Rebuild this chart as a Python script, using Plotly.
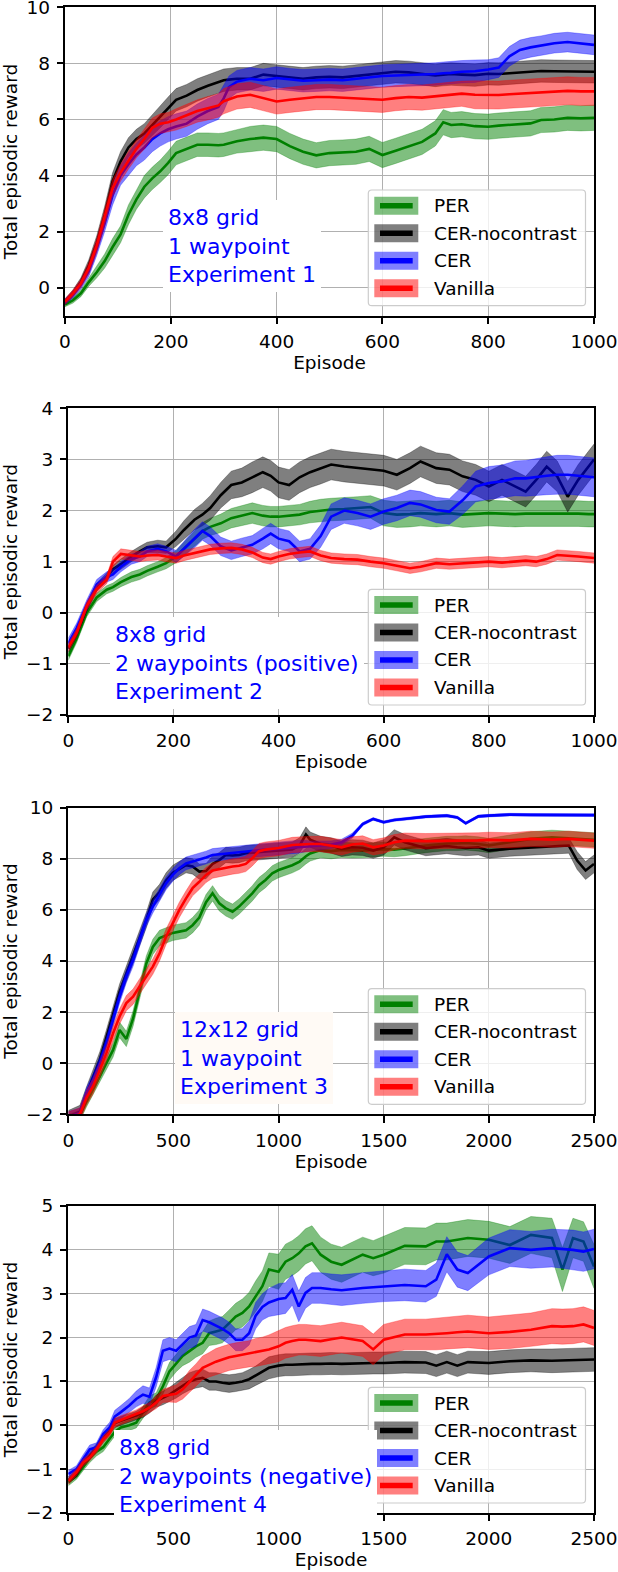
import plotly.graph_objects as go

# ---------------- data ----------------
series_names = ["PER", "CER-nocontrast", "CER", "Vanilla"]

# Experiment 1
ep1 = [0,15,30,45,60,75,90,105,120,135,150,165,180,195,210,230,250,270,290,300,
       310,325,350,375,400,425,450,475,500,525,550,575,600,625,650,675,700,715,730,750,
       775,800,820,840,860,880,900,925,950,975,1000]
per1_mean = [-0.6,-0.45,-0.2,0.2,0.55,0.95,1.45,1.9,2.6,3.15,3.6,3.9,4.15,4.45,4.8,4.95,5.1,5.1,5.08,5.1,
             5.15,5.22,5.3,5.35,5.3,5.05,4.85,4.72,4.8,4.82,4.85,4.95,4.73,4.88,5.03,5.2,5.5,5.9,5.8,5.83,
             5.76,5.74,5.78,5.8,5.82,5.86,5.98,6.0,6.06,6.04,6.06]
per1_sd = [0.08,0.1,0.12,0.15,0.2,0.25,0.3,0.3,0.35,0.35,0.4,0.4,0.4,0.42,0.42,0.42,0.42,0.42,0.42,0.42,
           0.42,0.42,0.45,0.45,0.45,0.45,0.45,0.45,0.45,0.45,0.45,0.45,0.45,0.45,0.45,0.45,0.45,0.45,0.45,0.45,
           0.45,0.45,0.45,0.45,0.45,0.45,0.45,0.45,0.45,0.45,0.45]
noc1_mean = [-0.5,-0.2,0.2,0.8,1.6,2.6,3.8,4.5,5.0,5.3,5.5,5.8,6.1,6.4,6.7,6.85,7.05,7.2,7.35,7.4,
             7.42,7.45,7.45,7.6,7.55,7.5,7.45,7.5,7.52,7.5,7.55,7.6,7.65,7.7,7.68,7.62,7.57,7.6,7.62,7.6,
             7.58,7.63,7.62,7.65,7.68,7.7,7.73,7.72,7.72,7.7,7.7]
noc1_sd = [0.1,0.12,0.15,0.2,0.25,0.3,0.3,0.35,0.35,0.35,0.35,0.38,0.4,0.4,0.4,0.4,0.4,0.4,0.4,0.4,
           0.4,0.4,0.4,0.4,0.4,0.4,0.4,0.4,0.4,0.4,0.4,0.4,0.4,0.4,0.4,0.4,0.4,0.4,0.4,0.4,
           0.4,0.4,0.4,0.4,0.4,0.4,0.4,0.4,0.4,0.4,0.4]
cer1_mean = [-0.5,-0.25,0.1,0.6,1.4,2.3,3.3,4.0,4.4,4.75,5.0,5.3,5.5,5.65,5.75,5.85,6.1,6.3,6.45,6.75,
             7.15,7.35,7.45,7.4,7.48,7.42,7.38,7.4,7.42,7.4,7.45,7.5,7.55,7.57,7.58,7.6,7.62,7.65,7.66,7.7,
             7.72,7.78,7.85,8.25,8.48,8.57,8.63,8.72,8.76,8.7,8.66]
cer1_sd = [0.1,0.12,0.15,0.2,0.25,0.3,0.35,0.35,0.4,0.4,0.45,0.45,0.45,0.45,0.45,0.45,0.45,0.45,0.45,0.45,
           0.4,0.4,0.4,0.4,0.4,0.4,0.4,0.4,0.4,0.4,0.4,0.4,0.4,0.4,0.4,0.4,0.4,0.4,0.4,0.4,
           0.4,0.35,0.35,0.35,0.35,0.35,0.35,0.35,0.35,0.35,0.35]
van1_mean = [-0.5,-0.2,0.15,0.7,1.5,2.5,3.55,4.1,4.55,4.95,5.3,5.7,5.85,5.9,6.0,6.15,6.3,6.4,6.5,6.65,
             6.72,6.82,6.88,6.76,6.64,6.7,6.75,6.8,6.8,6.78,6.75,6.72,6.7,6.76,6.8,6.78,6.82,6.85,6.88,6.92,
             6.88,6.86,6.87,6.9,6.92,6.93,6.95,6.98,7.02,7.0,7.0]
van1_sd = [0.1,0.12,0.15,0.2,0.25,0.3,0.3,0.3,0.32,0.32,0.35,0.35,0.35,0.35,0.38,0.4,0.4,0.42,0.42,0.45,
           0.45,0.45,0.45,0.45,0.45,0.45,0.45,0.45,0.45,0.45,0.45,0.45,0.45,0.45,0.45,0.45,0.45,0.45,0.45,0.45,
           0.5,0.5,0.5,0.5,0.5,0.5,0.5,0.5,0.5,0.5,0.5]

# Experiment 2
ep2 = [0,16,35,54,73,85,100,120,136,150,170,186,205,220,240,255,270,290,310,330,
       350,370,385,400,420,440,460,480,500,525,550,575,600,625,650,670,700,725,750,775,
       800,825,850,870,890,910,930,950,970,990,1000]
per2_mean = [-0.85,-0.5,0.0,0.3,0.45,0.5,0.6,0.7,0.75,0.82,0.9,0.97,1.1,1.25,1.45,1.6,1.68,1.75,1.85,1.9,
             1.95,1.9,1.88,1.88,1.9,1.92,1.97,2.0,2.02,2.03,2.05,2.07,1.95,1.92,1.93,1.95,1.93,1.95,1.92,1.94,
             1.95,1.94,1.93,1.94,1.94,1.95,1.95,1.95,1.94,1.93,1.93]
per2_sd = [0.08,0.08,0.08,0.08,0.08,0.08,0.09,0.1,0.1,0.1,0.1,0.11,0.12,0.13,0.15,0.16,0.17,0.18,0.19,0.2,
           0.2,0.2,0.2,0.2,0.2,0.2,0.21,0.22,0.22,0.22,0.22,0.22,0.25,0.25,0.25,0.25,0.25,0.25,0.25,0.25,
           0.25,0.25,0.25,0.25,0.25,0.25,0.25,0.25,0.25,0.25,0.25]
noc2_mean = [-0.7,-0.4,0.1,0.5,0.7,0.85,0.95,1.1,1.2,1.28,1.3,1.28,1.45,1.62,1.82,1.92,2.05,2.3,2.5,2.55,
             2.65,2.75,2.68,2.55,2.5,2.65,2.75,2.82,2.9,2.86,2.83,2.8,2.78,2.7,2.83,2.96,2.83,2.8,2.67,2.6,
             2.47,2.6,2.47,2.37,2.6,2.86,2.67,2.27,2.6,2.86,3.0]
noc2_sd = [0.08,0.08,0.08,0.08,0.08,0.08,0.1,0.1,0.1,0.1,0.12,0.12,0.15,0.18,0.2,0.22,0.24,0.25,0.27,0.28,
           0.3,0.3,0.3,0.3,0.3,0.3,0.3,0.3,0.3,0.3,0.3,0.3,0.3,0.3,0.3,0.3,0.3,0.3,0.3,0.3,
           0.3,0.3,0.3,0.3,0.3,0.3,0.3,0.3,0.3,0.3,0.3]
cer2_mean = [-0.6,-0.3,0.15,0.55,0.7,0.75,0.9,1.05,1.1,1.2,1.25,1.2,1.1,1.25,1.45,1.6,1.5,1.3,1.22,1.28,
             1.33,1.45,1.55,1.45,1.4,1.2,1.25,1.5,1.88,2.0,1.95,1.88,1.98,2.05,2.15,2.12,2.01,1.98,2.2,2.47,
             2.54,2.57,2.63,2.63,2.66,2.68,2.7,2.7,2.68,2.66,2.65]
cer2_sd = [0.1,0.1,0.1,0.1,0.1,0.1,0.1,0.1,0.1,0.1,0.1,0.1,0.12,0.15,0.18,0.18,0.18,0.18,0.18,0.18,
           0.18,0.2,0.2,0.2,0.2,0.2,0.2,0.22,0.25,0.25,0.25,0.25,0.25,0.25,0.25,0.25,0.25,0.25,0.28,0.3,
           0.32,0.32,0.34,0.35,0.36,0.37,0.38,0.38,0.38,0.38,0.38]
van2_mean = [-0.68,-0.39,0.13,0.46,0.65,1.0,1.15,1.12,1.1,1.12,1.13,1.1,1.07,1.12,1.17,1.2,1.24,1.26,1.27,1.24,
             1.18,1.08,1.05,1.1,1.15,1.18,1.2,1.12,1.07,1.05,1.04,1.0,0.97,0.92,0.87,0.9,0.97,0.95,0.97,0.98,
             1.0,0.98,1.0,1.02,1.0,1.05,1.13,1.12,1.1,1.08,1.07]
van2_sd = [0.08,0.08,0.08,0.08,0.08,0.1,0.1,0.1,0.1,0.1,0.1,0.1,0.1,0.1,0.1,0.1,0.1,0.1,0.1,0.1,
           0.1,0.1,0.1,0.1,0.1,0.1,0.1,0.1,0.1,0.1,0.1,0.1,0.1,0.1,0.1,0.1,0.1,0.1,0.1,0.1,
           0.1,0.1,0.1,0.1,0.1,0.1,0.1,0.1,0.1,0.1,0.1]

# Experiment 3
ep3 = [0,55,87,118,150,181,213,244,276,308,339,371,402,434,465,497,528,560,591,623,
       655,686,718,749,781,812,844,875,907,938,970,1000,1065,1100,1130,1150,1200,1250,1300,1350,
       1400,1450,1500,1550,1600,1700,1800,1850,1890,1950,2000,2100,2200,2300,2380,2420,2460,2500]
per3_mean = [-2.2,-2.05,-1.5,-1.04,-0.52,0.0,0.52,1.3,0.95,1.75,2.8,3.9,4.55,4.9,5.0,5.1,5.15,5.2,5.4,5.7,
             6.3,6.65,6.26,6.06,5.93,6.13,6.39,6.65,6.97,7.17,7.43,7.56,7.75,7.89,8.1,8.21,8.34,8.3,8.35,8.33,
             8.32,8.35,8.38,8.36,8.4,8.52,8.6,8.6,8.62,8.58,8.52,8.65,8.78,8.84,8.8,8.78,8.76,8.74]
per3_sd = [0.2,0.2,0.2,0.2,0.22,0.25,0.28,0.3,0.3,0.3,0.3,0.3,0.3,0.3,0.3,0.3,0.3,0.3,0.3,0.3,
           0.3,0.3,0.3,0.3,0.3,0.3,0.3,0.3,0.3,0.3,0.3,0.3,0.3,0.3,0.3,0.3,0.3,0.3,0.3,0.3,
           0.28,0.28,0.28,0.28,0.28,0.28,0.28,0.28,0.28,0.28,0.28,0.28,0.28,0.28,0.28,0.28,0.28,0.28]
noc3_mean = [-2.1,-1.9,-1.2,-0.55,0.15,1.0,1.95,2.8,3.5,4.2,4.9,5.6,6.4,6.7,7.15,7.45,7.6,7.75,7.7,7.5,
             7.52,7.8,7.95,8.15,8.13,8.15,8.22,8.24,8.26,8.3,8.32,8.32,8.36,8.52,8.95,8.75,8.58,8.52,8.39,8.45,
             8.43,8.32,8.45,8.84,8.65,8.42,8.5,8.45,8.42,8.45,8.32,8.4,8.45,8.48,8.52,7.93,7.54,7.8]
noc3_sd = [0.25,0.25,0.28,0.3,0.3,0.3,0.3,0.3,0.3,0.3,0.3,0.3,0.3,0.3,0.3,0.3,0.3,0.3,0.3,0.3,
           0.3,0.3,0.3,0.3,0.3,0.3,0.3,0.3,0.3,0.3,0.3,0.3,0.3,0.3,0.3,0.3,0.3,0.3,0.3,0.3,
           0.3,0.3,0.3,0.3,0.3,0.3,0.3,0.3,0.3,0.3,0.3,0.3,0.3,0.3,0.3,0.35,0.35,0.35]
cer3_mean = [-2.1,-1.95,-1.17,-0.65,0.0,0.78,1.7,2.6,3.4,4.04,4.82,5.6,6.13,6.58,7.04,7.37,7.63,7.82,7.89,7.97,
             8.05,8.15,8.18,8.21,8.24,8.27,8.29,8.32,8.34,8.36,8.38,8.4,8.45,8.48,8.5,8.5,8.52,8.55,8.65,8.9,
             9.36,9.56,9.43,9.52,9.56,9.65,9.69,9.62,9.39,9.66,9.69,9.73,9.72,9.71,9.71,9.71,9.71,9.71]
cer3_sd = [0.2,0.2,0.22,0.25,0.25,0.25,0.25,0.25,0.25,0.25,0.25,0.25,0.25,0.25,0.25,0.25,0.25,0.25,0.25,0.25,
           0.25,0.25,0.25,0.25,0.25,0.25,0.25,0.25,0.25,0.25,0.25,0.25,0.25,0.25,0.22,0.2,0.18,0.15,0.12,0.1,
           0.06,0.05,0.05,0.05,0.05,0.05,0.05,0.05,0.05,0.05,0.05,0.05,0.05,0.05,0.05,0.05,0.05,0.05]
van3_mean = [-2.15,-2.0,-1.35,-0.9,-0.26,0.39,1.17,1.83,2.35,2.6,3.0,3.4,3.78,4.3,4.95,5.48,6.0,6.45,6.85,7.1,
             7.37,7.54,7.6,7.65,7.7,7.73,7.8,8.02,8.3,8.36,8.4,8.42,8.54,8.56,8.58,8.58,8.58,8.52,8.45,8.56,
             8.6,8.45,8.52,8.65,8.71,8.69,8.7,8.7,8.69,8.72,8.74,8.72,8.78,8.75,8.78,8.76,8.74,8.71]
van3_sd = [0.25,0.25,0.28,0.3,0.3,0.3,0.3,0.3,0.3,0.3,0.3,0.3,0.3,0.3,0.3,0.3,0.3,0.3,0.3,0.3,
           0.3,0.3,0.3,0.3,0.3,0.3,0.3,0.3,0.3,0.3,0.3,0.3,0.3,0.3,0.3,0.3,0.3,0.3,0.3,0.3,
           0.3,0.3,0.3,0.3,0.3,0.3,0.3,0.3,0.3,0.3,0.3,0.3,0.3,0.3,0.3,0.3,0.3,0.3]

# Experiment 4
ep4 = [0,39,71,102,134,166,197,221,250,290,323,355,386,418,450,481,513,544,576,607,
       639,670,702,733,765,796,828,860,891,923,954,1000,1033,1065,1096,1128,1159,1200,1250,1300,
       1400,1450,1500,1600,1700,1750,1800,1850,1900,2000,2100,2200,2300,2350,2400,2450,2500]
per4_mean = [-1.3,-1.15,-0.95,-0.75,-0.6,-0.5,-0.3,-0.15,-0.05,0.0,0.06,0.29,0.52,0.59,0.89,1.23,1.42,1.58,1.69,1.8,
             1.88,2.1,2.14,2.18,2.33,2.48,2.56,2.71,2.94,3.17,3.55,3.5,3.73,3.81,3.92,4.08,4.15,3.89,3.73,3.66,
             3.89,3.81,3.89,4.09,4.08,4.19,4.19,4.23,4.27,4.23,4.11,4.34,4.27,3.55,4.27,4.19,3.62]
per4_sd = [0.08,0.08,0.08,0.1,0.1,0.1,0.1,0.1,0.1,0.12,0.12,0.14,0.15,0.15,0.18,0.2,0.2,0.22,0.25,0.25,
           0.25,0.28,0.3,0.3,0.3,0.3,0.32,0.32,0.35,0.35,0.38,0.4,0.4,0.4,0.4,0.4,0.4,0.4,0.4,0.4,
           0.4,0.4,0.42,0.42,0.42,0.42,0.42,0.42,0.42,0.42,0.42,0.42,0.45,0.5,0.45,0.45,0.5]
noc4_mean = [-1.25,-1.1,-0.85,-0.7,-0.5,-0.3,-0.1,0.05,0.1,0.17,0.22,0.3,0.4,0.55,0.62,0.7,0.8,0.9,1.0,1.05,
             1.08,1.0,1.0,0.97,0.95,0.97,1.0,1.05,1.13,1.22,1.31,1.36,1.38,1.38,1.39,1.39,1.4,1.4,1.41,1.4,
             1.42,1.42,1.42,1.44,1.43,1.36,1.44,1.36,1.44,1.42,1.46,1.48,1.47,1.48,1.48,1.49,1.5]
noc4_sd = [0.08,0.08,0.08,0.08,0.08,0.08,0.08,0.1,0.1,0.1,0.1,0.12,0.12,0.14,0.15,0.16,0.18,0.18,0.2,0.2,
           0.2,0.2,0.2,0.2,0.2,0.2,0.2,0.22,0.22,0.24,0.25,0.25,0.25,0.25,0.25,0.25,0.25,0.25,0.25,0.25,
           0.25,0.25,0.25,0.25,0.25,0.25,0.25,0.25,0.25,0.26,0.26,0.26,0.27,0.27,0.27,0.27,0.27]
cer4_mean = [-1.11,-1.0,-0.77,-0.55,-0.5,-0.2,-0.05,0.2,0.3,0.45,0.6,0.7,0.65,1.1,1.7,1.75,1.7,1.85,2.0,2.05,
             2.4,2.35,2.28,2.2,2.1,1.95,1.95,2.1,2.5,2.7,2.8,2.88,2.9,3.09,2.71,3.02,3.13,3.13,3.1,3.08,
             3.13,3.15,3.17,3.2,3.17,3.32,3.9,3.55,3.47,3.85,4.04,4.0,4.04,4.02,4.0,3.96,4.02]
cer4_sd = [0.08,0.08,0.1,0.1,0.1,0.1,0.12,0.14,0.15,0.16,0.18,0.2,0.2,0.22,0.25,0.25,0.25,0.25,0.25,0.25,
           0.25,0.25,0.25,0.25,0.25,0.25,0.25,0.27,0.3,0.3,0.32,0.35,0.35,0.35,0.35,0.35,0.35,0.35,0.35,0.35,
           0.35,0.35,0.35,0.36,0.36,0.38,0.4,0.4,0.4,0.42,0.42,0.42,0.43,0.44,0.45,0.45,0.45]
van4_mean = [-1.27,-1.07,-0.85,-0.73,-0.55,-0.32,-0.17,0.06,0.12,0.2,0.25,0.32,0.4,0.52,0.67,0.7,0.72,0.82,1.0,1.15,
             1.31,1.38,1.45,1.5,1.55,1.58,1.61,1.63,1.66,1.69,1.73,1.8,1.88,1.92,1.95,1.95,1.94,1.92,1.96,2.0,
             1.92,1.73,1.95,2.07,2.07,2.08,2.1,2.12,2.14,2.1,2.13,2.18,2.26,2.25,2.26,2.3,2.22]
van4_sd = [0.08,0.08,0.08,0.08,0.08,0.08,0.08,0.1,0.1,0.1,0.1,0.12,0.12,0.14,0.15,0.17,0.2,0.22,0.25,0.25,
           0.27,0.28,0.3,0.3,0.3,0.3,0.3,0.3,0.32,0.32,0.33,0.35,0.35,0.35,0.35,0.35,0.35,0.35,0.35,0.35,
           0.35,0.35,0.35,0.35,0.35,0.36,0.36,0.36,0.37,0.37,0.38,0.38,0.4,0.4,0.4,0.4,0.4]

# axis ticks
xticks_short = [0, 200, 400, 600, 800, 1000]
xticks_long = [0, 500, 1000, 1500, 2000, 2500]
yticks1 = [0, 2, 4, 6, 8, 10]
yticks2 = [-2, -1, 0, 1, 2, 3, 4]
yticks3 = [-2, 0, 2, 4, 6, 8, 10]
yticks4 = [-2, -1, 0, 1, 2, 3, 4, 5]

notes = ["8x8 grid<br>1 waypoint<br>Experiment 1",
         "8x8 grid<br>2 waypoints (positive)<br>Experiment 2",
         "12x12 grid<br>1 waypoint<br>Experiment 3",
         "8x8 grid<br>2 waypoints (negative)<br>Experiment 4"]

# ---------------- styling / layout ----------------
W, H = 618, 1572
FONT = "DejaVu Sans"


def fx(px):
    return px / W


def fy(py):
    return 1 - py / H


line_colors = ["#008000", "#000000", "#0000ff", "#ff0000"]
fill_colors = ["rgba(0,128,0,0.5)", "rgba(0,0,0,0.5)", "rgba(0,0,255,0.5)", "rgba(255,0,0,0.5)"]

panels = [
    dict(ep=ep1, data=[(per1_mean, per1_sd), (noc1_mean, noc1_sd), (cer1_mean, cer1_sd), (van1_mean, van1_sd)],
         box=(65, 594, 7.3, 315.7), xr=[0, 1000], xt=xticks_short, yr=[-1, 10], yt=yticks1,
         note=notes[0], note_xy=(163, 200), note_bg="#ffffff"),
    dict(ep=ep2, data=[(per2_mean, per2_sd), (noc2_mean, noc2_sd), (cer2_mean, cer2_sd), (van2_mean, van2_sd)],
         box=(68.3, 594, 408.3, 715), xr=[0, 1000], xt=xticks_short, yr=[-2, 4], yt=yticks2,
         note=notes[1], note_xy=(110, 617), note_bg="#ffffff"),
    dict(ep=ep3, data=[(per3_mean, per3_sd), (noc3_mean, noc3_sd), (cer3_mean, cer3_sd), (van3_mean, van3_sd)],
         box=(68.3, 594, 807.7, 1114.3), xr=[0, 2500], xt=xticks_long, yr=[-2, 10], yt=yticks3,
         note=notes[2], note_xy=(175, 1011.7), note_bg="#fffaf5"),
    dict(ep=ep4, data=[(per4_mean, per4_sd), (noc4_mean, noc4_sd), (cer4_mean, cer4_sd), (van4_mean, van4_sd)],
         box=(68.3, 594, 1206, 1513), xr=[0, 2500], xt=xticks_long, yr=[-2, 5], yt=yticks4,
         note=notes[3], note_xy=(114, 1430), note_bg="#ffffff"),
]

fig = go.Figure()
layout = dict(width=W, height=H, margin=dict(l=0, r=0, t=0, b=0, autoexpand=False),
              paper_bgcolor="white", plot_bgcolor="white", showlegend=False,
              font=dict(family=FONT, size=18.5, color="black"))
shapes = []
annotations = []

for i, p in enumerate(panels):
    sfx = "" if i == 0 else str(i + 1)
    xa, ya = "x" + sfx, "y" + sfx
    x0, x1, top, bot = p["box"]
    for k, (mean, sd) in enumerate(p["data"]):
        upper = [m + s for m, s in zip(mean, sd)]
        lower = [m - s for m, s in zip(mean, sd)]
        fig.add_trace(go.Scatter(x=p["ep"], y=upper, mode="lines", xaxis=xa, yaxis=ya,
                                 line=dict(width=0.6, color=fill_colors[k]), hoverinfo="skip",
                                 showlegend=False))
        fig.add_trace(go.Scatter(x=p["ep"], y=lower, mode="lines", xaxis=xa, yaxis=ya,
                                 fill="tonexty", fillcolor=fill_colors[k],
                                 line=dict(width=0.6, color=fill_colors[k]), hoverinfo="skip",
                                 showlegend=False))
        fig.add_trace(go.Scatter(x=p["ep"], y=mean, mode="lines", xaxis=xa, yaxis=ya,
                                 name=series_names[k], line=dict(width=2.6, color=line_colors[k])))

    common = dict(showgrid=True, gridcolor="#b0b0b0", gridwidth=1.3, zeroline=False,
                  showline=True, mirror=True, linecolor="black", linewidth=1.5,
                  ticks="outside", ticklen=6.5, tickwidth=1.5, tickcolor="black", automargin=False,
                  ticklabeloverflow="allow",
                  tickfont=dict(family=FONT, size=18.5, color="black"))
    layout["xaxis" + sfx] = dict(common, domain=[fx(x0), fx(x1)], anchor=ya, range=p["xr"],
                                 tickmode="array", tickvals=p["xt"], ticklabelstandoff=2,
                                 title=dict(text="Episode", standoff=4,
                                            font=dict(family=FONT, size=18.5, color="black")))
    layout["yaxis" + sfx] = dict(common, domain=[fy(bot), fy(top)], anchor=xa, range=p["yr"],
                                 tickmode="array", tickvals=p["yt"], ticklabelstandoff=3,
                                 title=dict(text="Total episodic reward", standoff=17,
                                            font=dict(family=FONT, size=18.5, color="black")))

    # text box
    nx, ny = p["note_xy"]
    annotations.append(dict(xref="paper", yref="paper", x=fx(nx), y=fy(ny), xanchor="left", yanchor="top",
                            text=p["note"], showarrow=False, align="left", bgcolor=p["note_bg"],
                            borderpad=5, borderwidth=0,
                            font=dict(family=FONT, size=22, color="#0000ff")))

    # legend (lower right)
    lx0, lx1 = 368.3, 585.5
    lb = bot - 10
    lt = lb - 115.7
    r = 3.5
    path = (f"M {fx(lx0 + r)},{fy(lt)} L {fx(lx1 - r)},{fy(lt)} Q {fx(lx1)},{fy(lt)} {fx(lx1)},{fy(lt + r)} "
            f"L {fx(lx1)},{fy(lb - r)} Q {fx(lx1)},{fy(lb)} {fx(lx1 - r)},{fy(lb)} "
            f"L {fx(lx0 + r)},{fy(lb)} Q {fx(lx0)},{fy(lb)} {fx(lx0)},{fy(lb - r)} "
            f"L {fx(lx0)},{fy(lt + r)} Q {fx(lx0)},{fy(lt)} {fx(lx0 + r)},{fy(lt)} Z")
    shapes.append(dict(type="path", xref="paper", yref="paper", path=path, layer="above",
                       fillcolor="rgba(255,255,255,0.8)", line=dict(color="#cccccc", width=1.2)))
    for k in range(4):
        cy = lt + 15.7 + 27.5 * k
        shapes.append(dict(type="rect", xref="paper", yref="paper", layer="above",
                           x0=fx(374.3), x1=fx(418.3), y0=fy(cy + 9), y1=fy(cy - 9),
                           fillcolor=fill_colors[k], line=dict(width=0)))
        shapes.append(dict(type="line", xref="paper", yref="paper", layer="above",
                           x0=fx(380), x1=fx(412.7), y0=fy(cy), y1=fy(cy),
                           line=dict(color=line_colors[k], width=5.5)))
        annotations.append(dict(xref="paper", yref="paper", x=fx(431.7), y=fy(cy), xanchor="left",
                                yanchor="middle", text=series_names[k], showarrow=False,
                                font=dict(family=FONT, size=18.5, color="black")))

layout["shapes"] = shapes
layout["annotations"] = annotations
fig.update_layout(**layout)

fig.write_html("out.html", config={"displayModeBar": False},
               post_script="document.body.style.margin='0px';document.body.style.overflow='hidden';")
